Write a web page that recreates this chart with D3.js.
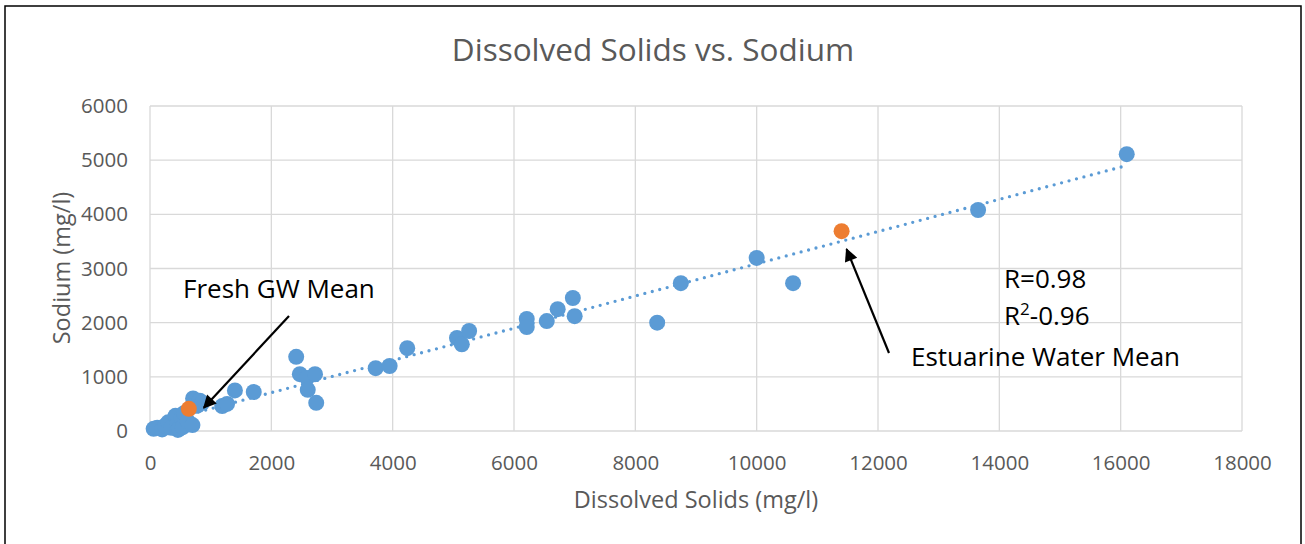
<!DOCTYPE html>
<html>
<head>
<meta charset="utf-8">
<script src="https://cdn.jsdelivr.net/npm/d3@7/dist/d3.min.js"></script>
<style>
  html, body { margin: 0; padding: 0; background: #fff; }
  svg { display: block; }
  text { font-family: "Open Sans", "Noto Sans", sans-serif; }
</style>
</head>
<body>
<svg id="chart" width="1305" height="544"></svg>
<script>
// ---- Data ----
const dissolvedSolids = [
  60, 120, 200, 250, 300, 350, 420, 450, 460, 480, 520, 540, 560, 620, 700, 710, 720, 780, 820, 860,
  1190, 1270, 1400, 1710,
  2410, 2470, 2590, 2600, 2720, 2740,
  3720, 3950, 4240,
  5060, 5140, 5260, 6210, 6210, 6540, 6720, 6970, 7000,
  8360, 8750, 10000, 10600, 13650, 16100
];
const sodium = [
  40, 60, 30, 100, 160, 60, 280, 130, 20, 40, 250, 70, 330, 180, 110, 600, 460, 470, 560, 520,
  460, 500, 750, 720,
  1370, 1050, 980, 760, 1050, 520,
  1160, 1200, 1530,
  1717, 1600, 1846, 2070, 1920, 2030, 2250, 2455, 2120,
  2000, 2730, 3195, 2730, 4080, 5110
];
const meanLabels = ["Fresh GW Mean", "Estuarine Water Mean"];
const meanDissolvedSolids = [640, 11400];
const meanSodium = [410, 3690];
const xTicks = [0, 2000, 4000, 6000, 8000, 10000, 12000, 14000, 16000, 18000];
const yTicks = [0, 1000, 2000, 3000, 4000, 5000, 6000];
const statLines = ["R=0.98", "R\u00B2-0.96"];

// ---- Layout ----
const svg = d3.select("#chart");
const plot = { left: 150, right: 1242, top: 106, bottom: 431 };
const x = d3.scaleLinear().domain([0, 18000]).range([plot.left, plot.right]);
const y = d3.scaleLinear().domain([0, 6000]).range([plot.bottom, plot.top]);

const blue = "#5B9BD5", orange = "#ED7D31", grid = "#D9D9D9", txt = "#595959";

// chart frame
svg.append("rect").attr("x", 5).attr("y", 6).attr("width", 1296).attr("height", 545)
  .attr("fill", "#fff").attr("stroke", "#000").attr("stroke-width", 1.5);

// gridlines
svg.append("g").selectAll("line").data(yTicks).join("line")
  .attr("x1", plot.left).attr("x2", plot.right)
  .attr("y1", d => y(d)).attr("y2", d => y(d))
  .attr("stroke", grid).attr("stroke-width", 1.3);
svg.append("g").selectAll("line").data(xTicks).join("line")
  .attr("y1", plot.top).attr("y2", plot.bottom)
  .attr("x1", d => x(d)).attr("x2", d => x(d))
  .attr("stroke", grid).attr("stroke-width", 1.3);

// axes (labels only) via d3 axes
const xAxis = svg.append("g").attr("transform", `translate(0,${plot.bottom})`)
  .call(d3.axisBottom(x).tickValues(xTicks).tickSize(0).tickFormat(d3.format("d")));
const yAxis = svg.append("g").attr("transform", `translate(${plot.left},0)`)
  .call(d3.axisLeft(y).tickValues(yTicks).tickSize(0).tickPadding(22).tickFormat(d3.format("d")));
[xAxis, yAxis].forEach(a => {
  a.select(".domain").remove();
  a.selectAll("text").attr("fill", txt).style("font-size", "20.5px")
    .style("font-family", "'Open Sans', sans-serif");
});
xAxis.selectAll("text").attr("dy", "0.35em").attr("y", 32);

// trendline (least-squares fit over all points)
const allX = dissolvedSolids.concat(meanDissolvedSolids);
const allY = sodium.concat(meanSodium);
const mx = d3.mean(allX), my = d3.mean(allY);
const slope = d3.sum(allX, (v, i) => (v - mx) * (allY[i] - my)) / d3.sum(allX, v => (v - mx) ** 2);
const intercept = my - slope * mx;
const x0 = d3.min(allX), x1 = d3.max(allX);
svg.append("line")
  .attr("x1", x(x0)).attr("y1", y(intercept + slope * x0))
  .attr("x2", x(x1)).attr("y2", y(intercept + slope * x1))
  .attr("stroke", blue).attr("stroke-width", 3.3)
  .attr("stroke-dasharray", "0 7.7").attr("stroke-linecap", "round");

// points
svg.append("g").selectAll("circle").data(dissolvedSolids).join("circle")
  .attr("cx", d => x(d)).attr("cy", (d, i) => y(sodium[i])).attr("r", 8)
  .attr("fill", blue);
svg.append("g").selectAll("circle").data(meanDissolvedSolids).join("circle")
  .attr("cx", d => x(d)).attr("cy", (d, i) => y(meanSodium[i])).attr("r", 8)
  .attr("fill", orange);

// title and axis titles
svg.append("text").attr("x", 653).attr("y", 61).attr("text-anchor", "middle")
  .attr("fill", txt).style("font-size", "31.5px").style("font-weight", 400)
  .text("Dissolved Solids vs. Sodium");
svg.append("text").attr("x", 696).attr("y", 508).attr("text-anchor", "middle")
  .attr("fill", txt).style("font-size", "23.5px").text("Dissolved Solids (mg/l)");
svg.append("text").attr("transform", "translate(70,268) rotate(-90)").attr("text-anchor", "middle")
  .attr("fill", txt).style("font-size", "23.5px").text("Sodium (mg/l)");

// annotations
const defs = svg.append("defs");
defs.append("marker").attr("id", "arrow").attr("viewBox", "0 0 10 10")
  .attr("refX", 9).attr("refY", 5).attr("markerWidth", 7).attr("markerHeight", 6)
  .attr("markerUnits", "strokeWidth").attr("orient", "auto")
  .append("path").attr("d", "M0,0 L10,5 L0,10 z").attr("fill", "#000");

svg.append("text").attr("x", 183).attr("y", 298).attr("fill", "#000")
  .style("font-size", "26px").text(meanLabels[0]);
svg.append("line").attr("x1", 289).attr("y1", 316)
  .attr("x2", x(meanDissolvedSolids[0]) + 15).attr("y2", y(meanSodium[0]) - 1)
  .attr("stroke", "#000").attr("stroke-width", 2.2).attr("marker-end", "url(#arrow)");

svg.append("text").attr("x", 911).attr("y", 366).attr("fill", "#000")
  .style("font-size", "26px").text(meanLabels[1]);
svg.append("line").attr("x1", 889).attr("y1", 353)
  .attr("x2", x(meanDissolvedSolids[1]) + 5).attr("y2", y(meanSodium[1]) + 18)
  .attr("stroke", "#000").attr("stroke-width", 2.2).attr("marker-end", "url(#arrow)");

const st = svg.append("g");
st.append("text").attr("x", 1004).attr("y", 288).attr("fill", "#000")
  .style("font-size", "26px").text(statLines[0]);
const r2 = st.append("text").attr("x", 1004).attr("y", 325).attr("fill", "#000")
  .style("font-size", "26px");
r2.append("tspan").text("R");
r2.append("tspan").attr("dy", -10).style("font-size", "17px").text("2");
r2.append("tspan").attr("dy", 10).text("-0.96");
</script>
</body>
</html>
